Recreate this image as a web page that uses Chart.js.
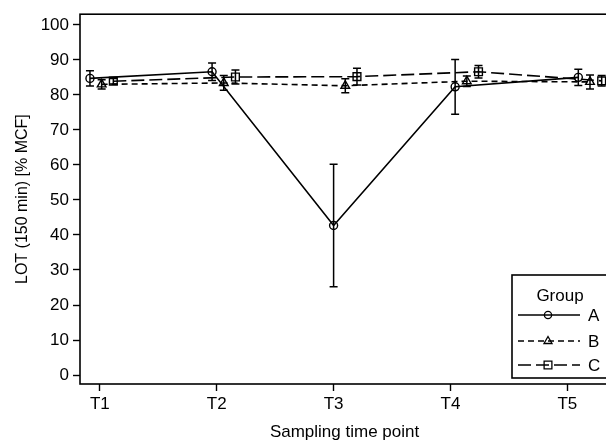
<!DOCTYPE html>
<html>
<head>
<meta charset="utf-8">
<script src="https://cdn.jsdelivr.net/npm/chart.js@4"></script>
<style>
html,body{margin:0;padding:0;background:#fff;overflow:hidden;}
#wrap{position:relative;width:616px;height:445px;}
</style>
</head>
<body>
<div id="wrap"><canvas id="c"></canvas></div>
<script>
// ---- data ----
const timeLabels = ["T1", "T2", "T3", "T4", "T5"];
const timeIndex = [1, 2, 3, 4, 5];
const groups = ["A", "B", "C"];
// dodge of each group along the time axis (in time-point units, as plotted)
const dodgeA = [-0.085, -0.04, 0.0, 0.04, 0.094];
const groupShift = [0, 0.1, 0.2];
const meanA = [84.7, 86.6, 42.7, 82.3, 85.0];
const sdA   = [2.2, 2.5, 17.5, 7.8, 2.3];
const meanB = [83.0, 83.4, 82.6, 83.9, 83.7];
const sdB   = [1.3, 2.1, 2.0, 1.5, 2.0];
const meanC = [83.9, 85.1, 85.2, 86.6, 84.0];
const sdC   = [0.8, 2.0, 2.4, 1.8, 1.5];
const yTicks = [0, 10, 20, 30, 40, 50, 60, 70, 80, 90, 100];

const FONT = "'Liberation Sans', Arial, sans-serif";
const means = [meanA, meanB, meanC];
const sds = [sdA, sdB, sdC];
const pointStyles = ["circle", "triangle", "rect"];
const dashes = [[], [6, 4], [13, 5]];
const radii = [4, 5, 5.5];

const datasets = groups.map((g, gi) => ({
  label: g,
  data: timeIndex.map((t, i) => ({x: t + dodgeA[i] + groupShift[gi], y: means[gi][i]})),
  sd: sds[gi],
  borderColor: "#000",
  borderWidth: 1.6,
  borderDash: dashes[gi],
  pointStyle: pointStyles[gi],
  pointRadius: radii[gi],
  pointBorderWidth: 1.4,
  pointBorderColor: "#000",
  pointBackgroundColor: "rgba(0,0,0,0)",
  fill: false,
  tension: 0
}));

const errorBars = {
  id: "errorBars",
  afterDatasetsDraw(chart) {
    const ctx = chart.ctx;
    const xs = chart.scales.x, ys = chart.scales.y;
    ctx.save();
    ctx.strokeStyle = "#000";
    ctx.lineWidth = 1.5;
    ctx.setLineDash([]);
    chart.data.datasets.forEach(ds => {
      ds.data.forEach((p, i) => {
        const x = xs.getPixelForValue(p.x);
        const yt = ys.getPixelForValue(p.y + ds.sd[i]);
        const yb = ys.getPixelForValue(p.y - ds.sd[i]);
        ctx.beginPath();
        ctx.moveTo(x, yt); ctx.lineTo(x, yb);
        ctx.moveTo(x - 4, yt); ctx.lineTo(x + 4, yt);
        ctx.moveTo(x - 4, yb); ctx.lineTo(x + 4, yb);
        ctx.stroke();
      });
    });
    ctx.restore();
  }
};

const frame = {
  id: "frame",
  afterDraw(chart) {
    const {ctx, chartArea: a} = chart;
    ctx.save();
    ctx.strokeStyle = "#000";
    ctx.lineWidth = 1.6;
    ctx.setLineDash([]);
    ctx.strokeRect(a.left, a.top, a.right - a.left, a.bottom - a.top);
    ctx.restore();
  }
};

const legendBox = {
  id: "legendBox",
  afterDraw(chart) {
    const ctx = chart.ctx;
    const bx = 512, by = 275, bw = 200, bh = 103;
    ctx.save();
    ctx.fillStyle = "#fff";
    ctx.fillRect(bx, by, bw, bh);
    ctx.strokeStyle = "#000";
    ctx.lineWidth = 1.6;
    ctx.strokeRect(bx, by, bw, bh);
    ctx.fillStyle = "#000";
    ctx.font = "17px " + FONT;
    ctx.textAlign = "center";
    ctx.textBaseline = "middle";
    ctx.fillText("Group", 560, 296);
    const rows = [315, 341, 365];
    chart.data.datasets.forEach((ds, gi) => {
      const y = rows[gi];
      ctx.lineWidth = 1.5;
      ctx.setLineDash(ds.borderDash);
      ctx.beginPath();
      ctx.moveTo(518, y); ctx.lineTo(580, y);
      ctx.stroke();
      ctx.setLineDash([]);
      ctx.lineWidth = 1.3;
      const r = ds.pointRadius;
      ctx.beginPath();
      if (ds.pointStyle === "circle") {
        ctx.arc(548, y, r * 0.9, 0, Math.PI * 2);
      } else if (ds.pointStyle === "triangle") {
        ctx.moveTo(548, y - r * 0.9); ctx.lineTo(548 + r * 0.8, y + r * 0.5); ctx.lineTo(548 - r * 0.8, y + r * 0.5); ctx.closePath();
      } else {
        const s = r * 0.707;
        ctx.rect(548 - s, y - s, 2 * s, 2 * s);
      }
      ctx.stroke();
      ctx.textAlign = "left";
      ctx.fillText(ds.label, 588, y + 1);
    });
    ctx.restore();
  }
};

new Chart(document.getElementById("c"), {
  type: "line",
  data: {datasets},
  options: {
    responsive: true,
    maintainAspectRatio: false,
    animation: false,
    layout: {padding: {top: 11, right: 4, left: 0, bottom: 0}},
    plugins: {legend: {display: false}, tooltip: {enabled: false}},
    scales: {
      x: {
        type: "linear",
        min: 0.8298,
        max: 5.3575,
        afterBuildTicks(s) { s.ticks = timeIndex.map(v => ({value: v})); },
        afterFit(s) { s.height = 61; },
        ticks: {
          callback: (v) => timeLabels[timeIndex.indexOf(v)] ?? "",
          color: "#000", font: {family: FONT, size: 17}, padding: 3, maxRotation: 0
        },
        grid: {display: true, drawOnChartArea: false, drawTicks: true, tickLength: 7, color: "#000", tickWidth: 1.4},
        border: {display: false},
        title: {display: true, text: "Sampling time point", color: "#000", font: {family: FONT, size: 17}, padding: {top: 0, bottom: 2}}
      },
      y: {
        type: "linear",
        min: -2.55,
        max: 103.03,
        afterBuildTicks(s) { s.ticks = yTicks.map(v => ({value: v})); },
        afterFit(s) { s.width = 80; },
        ticks: {color: "#000", font: {family: FONT, size: 17}, padding: 4},
        grid: {display: true, drawOnChartArea: false, drawTicks: true, tickLength: 7, color: "#000", tickWidth: 1.4},
        border: {display: false},
        title: {display: true, text: "LOT (150 min) [% MCF]", color: "#000", font: {family: FONT, size: 16}, padding: {top: 13, bottom: 0}}
      }
    }
  },
  plugins: [errorBars, frame, legendBox]
});
</script>
</body>
</html>
